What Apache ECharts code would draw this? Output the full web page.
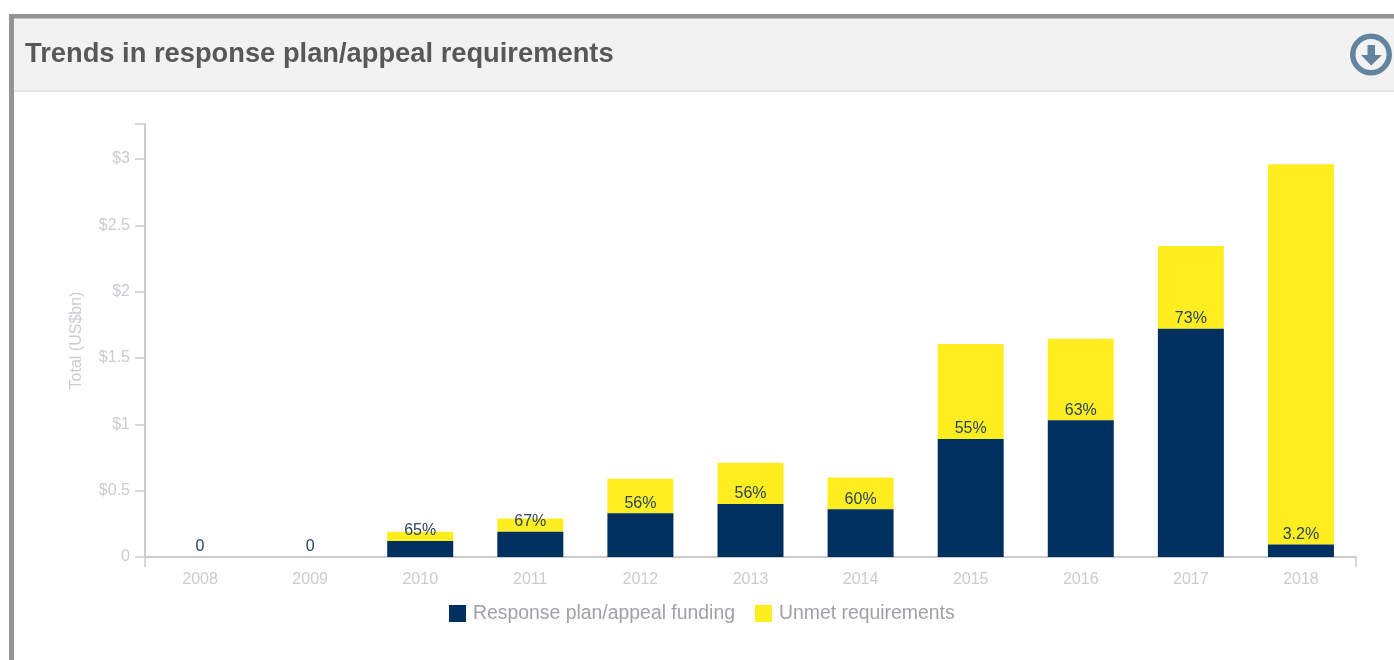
<!DOCTYPE html>
<html>
<head>
<meta charset="utf-8">
<style>
  html, body { margin: 0; padding: 0; background: #fff; }
  #chart { width: 1394px; height: 660px; }
</style>
<script src="https://cdn.jsdelivr.net/npm/echarts@6/dist/echarts.min.js"></script>
</head>
<body>
<div id="chart"></div>
<script>
// Annual requirements, split into funded and unmet parts (US$bn)
const years = ['2008', '2009', '2010', '2011', '2012', '2013', '2014', '2015', '2016', '2017', '2018'];
const funding = [0, 0, 0.12, 0.19, 0.33, 0.40, 0.36, 0.89, 1.03, 1.72, 0.095];
const unmet = [0, 0, 0.07, 0.10, 0.26, 0.31, 0.24, 0.715, 0.615, 0.625, 2.865];
const coverage = ['0', '0', '65%', '67%', '56%', '56%', '60%', '55%', '63%', '73%', '3.2%'];
const yTicks = { 0: '0', 0.5: '$0.5', 1: '$1', 1.5: '$1.5', 2: '$2', 2.5: '$2.5', 3: '$3' };

const AXIS_COLOR = '#cccccc';
const TICK_TEXT = '#ccccd0';
const FONT = '"Liberation Sans", Arial, sans-serif';

const chart = echarts.init(document.getElementById('chart'));
chart.setOption({
  animation: false,
  backgroundColor: '#ffffff',
  textStyle: { fontFamily: FONT },
  title: {
    text: 'Trends in response plan/appeal requirements',
    left: 25,
    top: 41,
    padding: 0,
    textStyle: { fontFamily: FONT, fontSize: 27.3, fontWeight: 'bold', color: '#58585a' }
  },
  legend: {
    left: 449,
    top: 604,
    padding: 0,
    itemWidth: 17,
    itemHeight: 17,
    itemGap: 20,
    icon: 'rect',
    selectedMode: false,
    textStyle: { fontFamily: FONT, fontSize: 19.4, color: '#a0a0a6', padding: [0, 0, 0, 2] }
  },
  grid: { left: 145, right: 38, top: 124, bottom: 103, containLabel: false },
  xAxis: [
    {
      type: 'category',
      data: years,
      axisLine: { lineStyle: { color: AXIS_COLOR, width: 2 } },
      axisTick: { alignWithLabel: true, length: 10, lineStyle: { color: AXIS_COLOR, width: 1.5 } },
      axisLabel: { color: TICK_TEXT, fontSize: 16, margin: 15 }
    },
    {
      // Carries only the end ticks that close the axis on both sides
      type: 'value',
      position: 'bottom',
      min: 0,
      max: 1,
      interval: 1,
      axisLine: { show: false },
      axisTick: { show: true, length: 10, lineStyle: { color: AXIS_COLOR, width: 1.5 } },
      axisLabel: { show: false },
      splitLine: { show: false }
    }
  ],
  yAxis: {
    type: 'value',
    min: 0,
    max: 3.264,
    interval: 0.5,
    name: 'Total (US$bn)',
    nameLocation: 'middle',
    nameGap: 60,
    nameRotate: 90,
    nameTextStyle: { color: TICK_TEXT, fontSize: 16 },
    axisLine: { show: true, lineStyle: { color: AXIS_COLOR, width: 2 } },
    axisTick: { show: true, length: 10, lineStyle: { color: AXIS_COLOR, width: 1.5 } },
    axisLabel: {
      color: TICK_TEXT,
      fontSize: 16,
      margin: 15,
      padding: [2, 0, 0, 0],
      showMaxLabel: true,
      formatter: v => yTicks[v] ?? ''
    },
    splitLine: { show: false }
  },
  series: [
    {
      name: 'Response plan/appeal funding',
      type: 'bar',
      stack: 'total',
      barWidth: 66,
      data: funding,
      itemStyle: { color: '#003060' },
      label: {
        show: true,
        position: 'top',
        distance: 2,
        fontSize: 16,
        color: '#2a4464',
        formatter: p => coverage[p.dataIndex]
      },
      z: 3
    },
    {
      name: 'Unmet requirements',
      type: 'bar',
      stack: 'total',
      barWidth: 66,
      data: unmet,
      itemStyle: { color: '#ffee1f' },
      z: 2
    }
  ],
  graphic: [
    // Panel header and its frame
    { type: 'rect', silent: true, z: -10, shape: { x: 14, y: 18, width: 1380, height: 72 }, style: { fill: '#f2f2f2' } },
    { type: 'rect', silent: true, z: -10, shape: { x: 14, y: 90, width: 1380, height: 2 }, style: { fill: '#e6e6e6' } },
    { type: 'rect', silent: true, z: -9, shape: { x: 9, y: 14, width: 1385, height: 4.5 }, style: { fill: '#939398' } },
    { type: 'rect', silent: true, z: -9, shape: { x: 9, y: 14, width: 5, height: 646 }, style: { fill: '#939398' } },
    // Download button
    { type: 'ring', silent: true, shape: { cx: 1371, cy: 54.5, r: 21, r0: 15.5 }, style: { fill: '#62849f' } },
    {
      type: 'polygon',
      silent: true,
      shape: { points: [[1367.5, 45], [1375, 45], [1375, 55], [1382, 55], [1371.2, 65.5], [1361, 55], [1367.5, 55]] },
      style: { fill: '#62849f' }
    }
  ]
});
</script>
</body>
</html>
